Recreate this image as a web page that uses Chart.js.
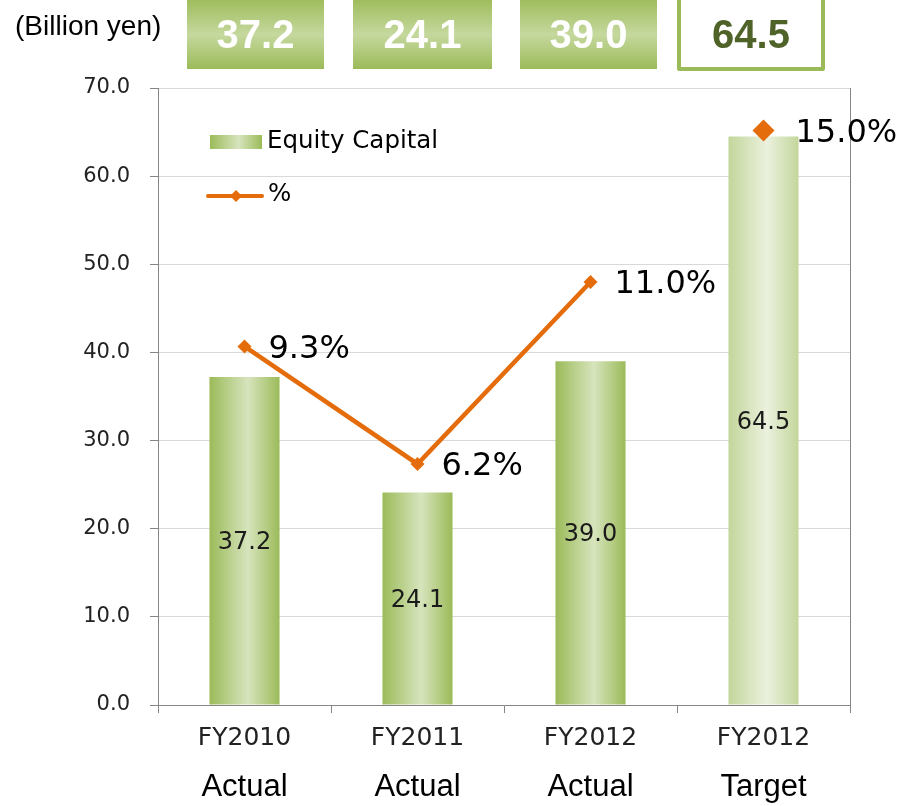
<!DOCTYPE html>
<html>
<head>
<meta charset="utf-8">
<script src="https://cdn.jsdelivr.net/npm/chart.js@4.4.1/dist/chart.umd.min.js"></script>
<style>
  html, body { margin:0; padding:0; background:#fff; }
  #wrap { position:relative; width:900px; height:806px; overflow:hidden; }
  #c { position:absolute; left:0; top:0; }
  .unit { position:absolute; left:15px; top:10px; font:28px "Liberation Sans", Arial, sans-serif; color:#000; }
  .box { position:absolute; top:0; height:69px; text-align:center;
         font:bold 40px "Liberation Sans", Arial, sans-serif; line-height:69px; color:#fff;
         background:linear-gradient(to bottom, #9FBD5D 0%, #C5D89E 50%, #9BBB59 100%); }
  .box.target { background:#fff; color:#4F6228; border:4px solid #9BBB59; border-top:none;
                border-radius:0 0 3px 3px; height:67px; line-height:69px; box-sizing:content-box; }
</style>
</head>
<body>
<div id="wrap">
  <canvas id="c" width="900" height="806"></canvas>
  <div class="unit">(Billion yen)</div>
  <div id="boxes"></div>
</div>
<script>
const categories = ["FY2010", "FY2011", "FY2012", "FY2012"];
const subLabels = ["Actual", "Actual", "Actual", "Target"];
const equityCapital = [37.2, 24.1, 39.0, 64.5];
const ratioPct = [9.3, 6.2, 11.0, null];
const targetPct = [null, null, null, 15.0];
const yTicks = [0, 10, 20, 30, 40, 50, 60, 70];
const headerValues = ["37.2", "24.1", "39.0", "64.5"];

// header boxes
const boxLefts = [187, 353, 520, 677];
const boxWidths = [137, 139, 137, 140];
const boxes = document.getElementById('boxes');
headerValues.forEach((v, i) => {
  const d = document.createElement('div');
  d.className = 'box' + (i === 3 ? ' target' : '');
  d.style.left = boxLefts[i] + 'px';
  d.style.width = boxWidths[i] + 'px';
  d.textContent = v;
  boxes.appendChild(d);
});

const ORANGE = '#E46C0A';
const FONT = '"DejaVu Sans", Verdana, sans-serif';

function barGradient(c) {
  const chart = c.chart;
  const isTarget = c.dataIndex === 3;
  const edge = isTarget ? '#C3D69B' : '#9BBB59';
  const mid = isTarget ? '#EBF1DE' : '#D7E4BD';
  if (!chart.chartArea || !chart.scales.x) return edge;
  const xs = chart.scales.x;
  const cx = xs.getPixelForValue(c.dataIndex);
  const w = xs.width / categories.length * 0.405;
  const g = chart.ctx.createLinearGradient(cx - w / 2, 0, cx + w / 2, 0);
  g.addColorStop(0, edge);
  g.addColorStop(0.55, mid);
  g.addColorStop(1, edge);
  return g;
}

const labelPlugin = {
  id: 'labels',
  afterDatasetsDraw(chart) {
    const ctx = chart.ctx;
    ctx.save();
    // bar value labels
    const bm = chart.getDatasetMeta(0);
    ctx.font = '24px ' + FONT;
    ctx.fillStyle = '#1a1a1a';
    ctx.textAlign = 'center';
    ctx.textBaseline = 'middle';
    bm.data.forEach((el, i) => {
      ctx.fillText(equityCapital[i].toFixed(1), el.x, (el.y + el.base) / 2 + 2);
    });
    // percent labels
    ctx.font = '32px ' + FONT;
    ctx.textAlign = 'left';
    ctx.fillStyle = '#000';
    const lm = chart.getDatasetMeta(1);
    lm.data.forEach((el, i) => {
      if (ratioPct[i] == null) return;
      ctx.fillText(ratioPct[i].toFixed(1) + '%', el.x + 24, el.y + 3);
    });
    const tm = chart.getDatasetMeta(2);
    tm.data.forEach((el, i) => {
      if (targetPct[i] == null) return;
      ctx.fillText(targetPct[i].toFixed(1) + '%', el.x + 32, el.y + 3);
    });
    // legend
    const ca = chart.chartArea;
    const lx = ca.left + 52, ly = ca.top + 47;
    const g = ctx.createLinearGradient(lx, 0, lx + 52, 0);
    g.addColorStop(0, '#9BBB59'); g.addColorStop(0.55, '#D7E4BD'); g.addColorStop(1, '#9BBB59');
    ctx.fillStyle = g;
    ctx.fillRect(lx, ly, 52, 14);
    ctx.font = '24.5px ' + FONT;
    ctx.fillStyle = '#000';
    ctx.textBaseline = 'middle';
    ctx.fillText(chart.data.datasets[0].label, lx + 57, ly + 7);
    const l2y = ly + 61;
    ctx.strokeStyle = ORANGE; ctx.lineWidth = 4; ctx.lineCap = 'round';
    ctx.beginPath(); ctx.moveTo(lx - 2, l2y); ctx.lineTo(lx + 52, l2y); ctx.stroke();
    ctx.fillStyle = ORANGE;
    ctx.beginPath();
    const dx = lx + 26, r = 6;
    ctx.moveTo(dx, l2y - r); ctx.lineTo(dx + r, l2y); ctx.lineTo(dx, l2y + r); ctx.lineTo(dx - r, l2y); ctx.closePath(); ctx.fill();
    ctx.fillStyle = '#000';
    ctx.fillText(chart.data.datasets[1].label, lx + 58, l2y - 1);
    ctx.restore();
  }
};

new Chart(document.getElementById('c'), {
  type: 'bar',
  data: {
    labels: categories,
    datasets: [
      {
        label: 'Equity Capital',
        data: equityCapital,
        backgroundColor: barGradient,
        borderWidth: 0,
        categoryPercentage: 1,
        barPercentage: 0.405,
        yAxisID: 'y',
        order: 2
      },
      {
        type: 'line',
        label: '%',
        data: ratioPct,
        borderColor: ORANGE,
        backgroundColor: ORANGE,
        borderWidth: 4.5,
        pointStyle: 'rectRot',
        pointRadius: 7,
        pointBorderWidth: 0,
        pointBackgroundColor: ORANGE,
        tension: 0,
        spanGaps: false,
        yAxisID: 'y2',
        order: 1
      },
      {
        type: 'line',
        label: 'target %',
        data: targetPct,
        showLine: false,
        pointStyle: 'rectRot',
        pointRadius: 11,
        pointBorderWidth: 0,
        pointBackgroundColor: ORANGE,
        borderColor: ORANGE,
        yAxisID: 'y2',
        order: 0
      }
    ]
  },
  options: {
    responsive: false,
    animation: false,
    layout: { padding: { top: 88, left: 0, right: 0, bottom: 0 } },
    plugins: { legend: { display: false }, tooltip: { enabled: false } },
    scales: {
      x: {
        type: 'category',
        offset: true,
        weight: 0,
        grid: { display: true, offset: true, drawOnChartArea: false, drawTicks: true, tickLength: 8, color: '#868686', tickColor: '#868686' },
        border: { display: true, color: '#868686', width: 1 },
        ticks: { color: '#222', font: { family: FONT, size: 25 }, padding: 10, maxRotation: 0, autoSkip: false },
        afterFit(s) { s.height = 60; }
      },
      x2: {
        type: 'category',
        labels: subLabels,
        position: 'bottom',
        offset: true,
        weight: 1,
        grid: { display: false, drawTicks: false },
        border: { display: false },
        ticks: { color: '#000', font: { family: '"Liberation Sans", Arial, sans-serif', size: 31 }, padding: 4, maxRotation: 0, autoSkip: false },
        afterFit(s) { s.height = 41; }
      },
      y: {
        position: 'left',
        min: 0,
        max: 70,
        afterBuildTicks(s) { s.ticks = yTicks.map(v => ({ value: v })); },
        grid: { color: '#D9D9D9', tickColor: '#868686', tickLength: 8, lineWidth: 1 },
        border: { display: true, color: '#868686', width: 1 },
        ticks: { color: '#222', font: { family: FONT, size: 21 }, padding: 20, callback: v => Number(v).toFixed(1) },
        afterFit(s) { s.width = 158; }
      },
      y2: {
        position: 'right',
        min: -0.16,
        max: 16.12,
        grid: { display: true, drawOnChartArea: false, drawTicks: false },
        border: { display: true, color: '#868686', width: 1 },
        ticks: { display: false },
        afterFit(s) { s.width = 50; }
      }
    }
  },
  plugins: [labelPlugin]
});
</script>
</body>
</html>
